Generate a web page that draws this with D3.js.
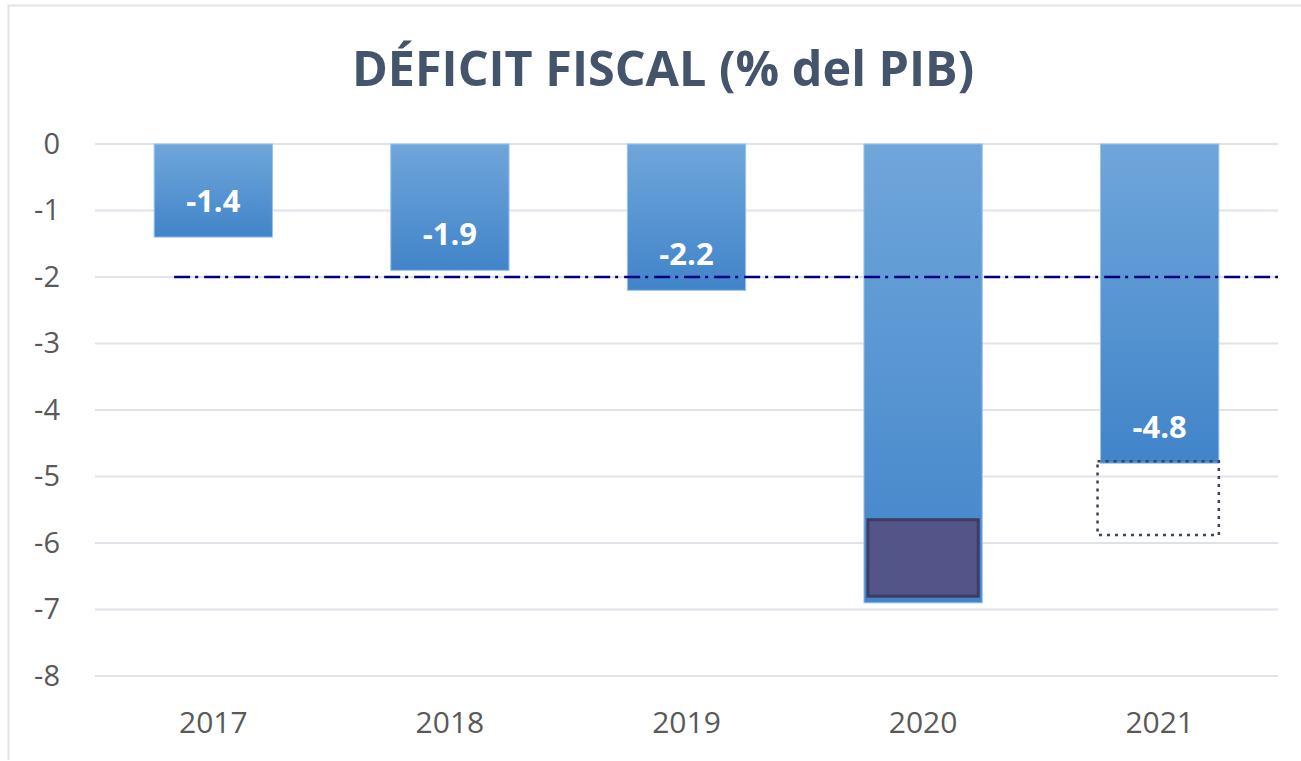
<!DOCTYPE html>
<html>
<head>
<meta charset="utf-8">
<script src="https://cdn.jsdelivr.net/npm/d3@7"></script>
<style>
  body { margin: 0; background: #fff; }
  svg { display: block; font-family: "Open Sans", "Noto Sans", sans-serif; }
</style>
</head>
<body>
<svg id="chart" width="1301" height="761"></svg>
<script>
const YEARS = ['2017', '2018', '2019', '2020', '2021'];
const DEFICIT = [-1.4, -1.9, -2.2, -6.9, -4.8];
const Y_TICKS = [0, -1, -2, -3, -4, -5, -6, -7, -8];
const TARGET = -2;
// highlighted portions: solid block in 2020, dotted projection in 2021
const SOLID_BOX = { year: '2020', from: -5.65, to: -6.8 };
const DOTTED_BOX = { year: '2021', from: -4.77, to: -5.88 };

const MARGIN = { top: 144, right: 23, bottom: 85, left: 95 };
const W = 1301, H = 761;

const svg = d3.select('#chart');

const defs = svg.append('defs');
const grad = defs.append('linearGradient')
  .attr('id', 'barGrad').attr('x1', 0).attr('y1', 0).attr('x2', 0).attr('y2', 1);
grad.append('stop').attr('offset', '0%').attr('stop-color', '#6fa6db');
grad.append('stop').attr('offset', '100%').attr('stop-color', '#4184c9');

// outer frame
svg.append('path')
  .attr('d', `M8.5,760 V5.5 H1301`)
  .attr('fill', 'none').attr('stroke', '#dfe3ea').attr('stroke-width', 2);

svg.append('text')
  .attr('x', 663).attr('y', 86)
  .attr('text-anchor', 'middle')
  .attr('font-size', 48.5).attr('font-weight', 'bold')
  .attr('fill', '#44546a')
  .text('DÉFICIT FISCAL (% del PIB)');

const x = d3.scaleBand()
  .domain(YEARS)
  .range([MARGIN.left, W - MARGIN.right])
  .paddingInner(0.5).paddingOuter(0.25);

const y = d3.scaleLinear()
  .domain([0, -8])
  .range([MARGIN.top, H - MARGIN.bottom]);

// gridlines
svg.append('g').selectAll('line')
  .data(Y_TICKS)
  .join('line')
  .attr('x1', MARGIN.left).attr('x2', W - MARGIN.right)
  .attr('y1', d => y(d)).attr('y2', d => y(d))
  .attr('stroke', '#dfe3ea').attr('stroke-width', 2);

const yAxis = svg.append('g')
  .attr('transform', `translate(${MARGIN.left - 35},0)`)
  .call(d3.axisLeft(y).tickValues(Y_TICKS).tickSize(0).tickPadding(0).tickFormat(d => String(d)));
yAxis.select('.domain').remove();
yAxis.selectAll('text')
  .attr('font-size', 29).attr('fill', '#595959')
  .attr('font-family', '"Open Sans", sans-serif');

const xAxis = svg.append('g')
  .attr('transform', `translate(0,${y(-8) + 46})`)
  .call(d3.axisBottom(x).tickSize(0).tickPadding(0));
xAxis.select('.domain').remove();
xAxis.selectAll('text')
  .attr('font-size', 30).attr('fill', '#595959')
  .attr('dy', '0.35em')
  .attr('font-family', '"Open Sans", sans-serif');

const data = YEARS.map((year, i) => ({ year, value: DEFICIT[i] }));

svg.append('g').selectAll('rect')
  .data(data)
  .join('rect')
  .attr('x', d => x(d.year))
  .attr('y', y(0))
  .attr('width', x.bandwidth())
  .attr('height', d => y(d.value) - y(0))
  .attr('fill', 'url(#barGrad)')
  .attr('stroke', '#9cc3ea').attr('stroke-width', 1);

// target line at -2
svg.append('line')
  .attr('x1', x(YEARS[0]) + 20).attr('x2', W - MARGIN.right)
  .attr('y1', y(TARGET)).attr('y2', y(TARGET))
  .attr('stroke', '#00007f').attr('stroke-width', 2.5)
  .attr('stroke-dasharray', '16,5,3,6');

// solid block inside 2020 bar
svg.append('rect')
  .attr('x', x(SOLID_BOX.year) + 4)
  .attr('y', y(SOLID_BOX.from))
  .attr('width', x.bandwidth() - 8)
  .attr('height', y(SOLID_BOX.to) - y(SOLID_BOX.from))
  .attr('fill', '#535488')
  .attr('stroke', '#3e3c66').attr('stroke-width', 3);

// dotted projection under 2021 bar
svg.append('rect')
  .attr('x', x(DOTTED_BOX.year) - 3)
  .attr('y', y(DOTTED_BOX.from))
  .attr('width', x.bandwidth() + 3)
  .attr('height', y(DOTTED_BOX.to) - y(DOTTED_BOX.from))
  .attr('fill', 'none')
  .attr('stroke', '#3d3d66').attr('stroke-width', 2.5)
  .attr('stroke-dasharray', '3,5');

// value labels
svg.append('g').selectAll('text')
  .data(data)
  .join('text')
  .attr('x', d => x(d.year) + x.bandwidth() / 2)
  .attr('y', d => y(d.value) - 25)
  .attr('text-anchor', 'middle')
  .attr('font-size', 31).attr('font-weight', 'bold')
  .attr('fill', '#fff')
  .text(d => d.year === '2020' ? '' : d.value.toFixed(1));
</script>
</body>
</html>
